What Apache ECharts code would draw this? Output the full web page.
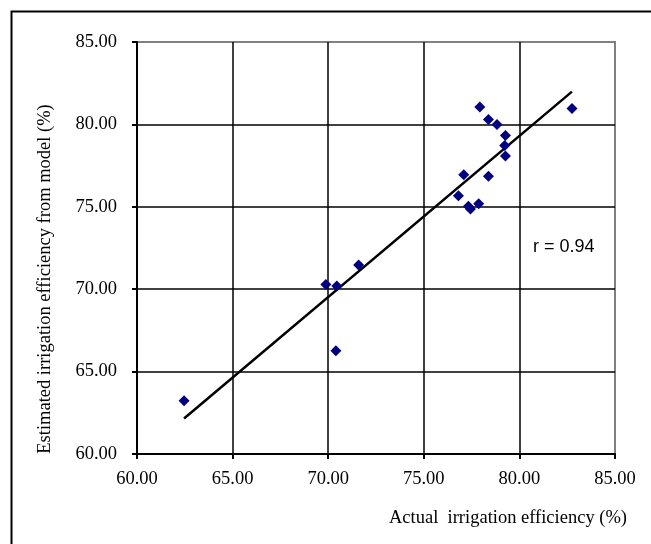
<!DOCTYPE html>
<html>
<head>
<meta charset="utf-8">
<script src="https://cdn.jsdelivr.net/npm/echarts@6/dist/echarts.min.js"></script>
<style>html,body{margin:0;padding:0;background:#fff;}#c{width:651px;height:544px;}</style>
</head>
<body>
<div id="c"></div>
<script>
const actual = [62.46, 69.88, 70.45, 71.59, 70.40, 76.81, 77.09, 77.33, 77.44, 77.87, 78.38, 77.93, 78.38, 78.83, 79.27, 79.23, 79.27, 82.75];
const estimated = [63.23, 70.28, 70.20, 71.47, 66.26, 75.67, 76.94, 75.04, 74.86, 75.19, 76.86, 81.06, 80.29, 79.99, 79.33, 78.72, 78.09, 80.96];
const xTitle = 'Actual  irrigation efficiency (%)';
const yTitle = 'Estimated irrigation efficiency from model (%)';
const rLabel = 'r = 0.94';

// linear regression from the data
const n = actual.length;
const mx = actual.reduce((a, b) => a + b, 0) / n;
const my = estimated.reduce((a, b) => a + b, 0) / n;
let sxy = 0, sxx = 0;
for (let i = 0; i < n; i++) { sxy += (actual[i] - mx) * (estimated[i] - my); sxx += (actual[i] - mx) ** 2; }
const slope = sxy / sxx, icpt = my - slope * mx;
const x0 = Math.min(...actual), x1 = Math.max(...actual);
const trend = [[x0, icpt + slope * x0], [x1, icpt + slope * x1]];

const serif = 'Liberation Serif';
const chart = echarts.init(document.getElementById('c'));
chart.setOption({
  animation: false,
  grid: { left: 137, top: 42, right: 36, bottom: 90, show: true, borderColor: '#808080', borderWidth: 2, backgroundColor: 'transparent' },
  xAxis: {
    type: 'value', min: 60, max: 85, interval: 5,
    axisLine: { show: true, onZero: false, lineStyle: { color: '#000', width: 2 } },
    axisTick: { show: true, length: 5, lineStyle: { color: '#000', width: 2 } },
    axisLabel: { color: '#000', fontFamily: serif, fontSize: 18.5, margin: 16, formatter: v => v.toFixed(2) },
    splitLine: { show: true, showMinLine: false, showMaxLine: false, lineStyle: { color: '#000', width: 1.5 } }
  },
  yAxis: {
    type: 'value', min: 60, max: 85, interval: 5,
    axisLine: { show: true, onZero: false, lineStyle: { color: '#000', width: 2 } },
    axisTick: { show: true, length: 5, lineStyle: { color: '#000', width: 2 } },
    axisLabel: { color: '#000', fontFamily: serif, fontSize: 18.5, margin: 20, formatter: v => v.toFixed(2) },
    splitLine: { show: true, showMinLine: false, showMaxLine: false, lineStyle: { color: '#000', width: 1.5 } }
  },
  series: [
    {
      type: 'line', data: trend, showSymbol: false, symbol: 'none',
      lineStyle: { color: '#000', width: 2.5 }, z: 3, silent: true
    },
    {
      type: 'scatter', data: actual.map((x, i) => [x, estimated[i]]),
      symbol: 'diamond', symbolSize: [11, 11],
      itemStyle: { color: '#000080', opacity: 1 }, z: 4
    }
  ],
  graphic: [
    { type: 'rect', left: 9, top: 9, shape: { width: 700, height: 600 }, style: { fill: 'none', stroke: '#000', lineWidth: 2 }, silent: true },
    { type: 'text', x: 508, y: 518, style: { text: xTitle, font: '18.5px "Liberation Serif"', fill: '#000', align: 'center', verticalAlign: 'middle' } },
    { type: 'text', x: 45, y: 279, rotation: Math.PI / 2, style: { text: yTitle, font: '18.5px "Liberation Serif"', fill: '#000', align: 'center', verticalAlign: 'middle' } },
    { type: 'text', x: 533, y: 247, style: { text: rLabel, font: '18px "Liberation Sans"', fill: '#000', align: 'left', verticalAlign: 'middle' } }
  ]
});
</script>
</body>
</html>
